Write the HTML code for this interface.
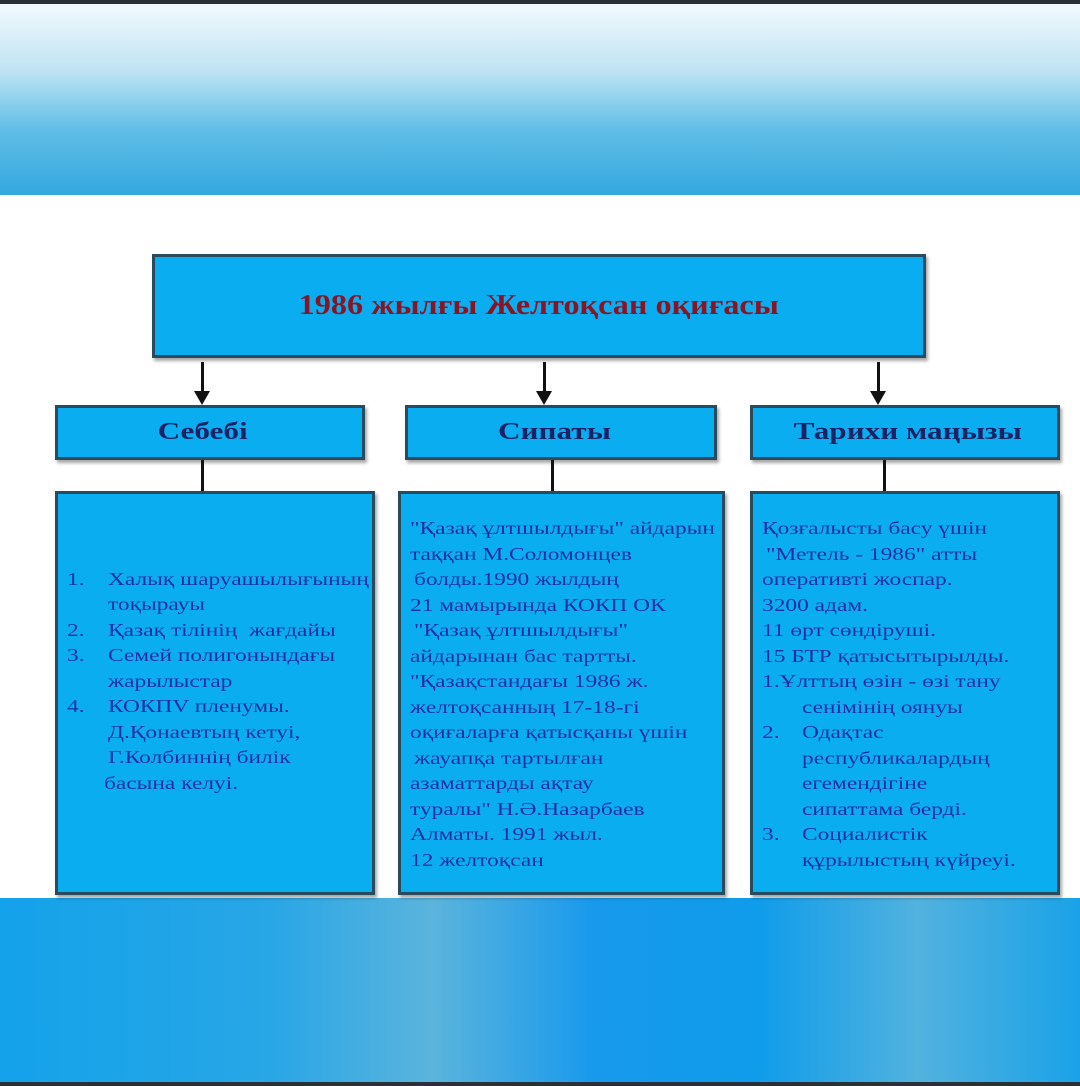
<!DOCTYPE html>
<html><head><meta charset="utf-8"><style>
body{margin:0;width:1080px;height:1086px;position:relative;overflow:hidden;background:#fff;font-family:"Liberation Serif",serif}
.a{position:absolute}
.box{position:absolute;background:#0aaef0;border:3px solid #2a4a5e;box-sizing:border-box;box-shadow:2px 3px 3px rgba(0,0,0,.35)}
.hd{font-weight:bold;font-size:24px;color:#1a2266;line-height:49px}
.hd span{display:inline-block;transform:scaleX(1.3)}
.t{position:absolute;font-size:18px;color:#1e2fa6;white-space:nowrap;line-height:25.5px;transform-origin:0 0;transform:scaleX(1.3)}
.v{position:absolute;width:3px;background:#111}
.ar{position:absolute;width:0;height:0;border-left:8px solid transparent;border-right:8px solid transparent;border-top:14px solid #111}
</style></head><body>
<div class="a" style="left:0;top:0;width:1080px;height:4px;background:#2b3036"></div>
<div class="a" style="left:0;top:4px;width:1080px;height:191px;background:linear-gradient(#f2f9fd 0%,#bfe3f3 35%,#62bfe7 65%,#33a8de 100%)"></div>
<div class="a" style="left:0;top:898px;width:1080px;height:184px;background:linear-gradient(90deg,#14a2ea 0%,#28a6e6 25%,#5bb4dc 40%,#1899ec 55%,#0f9cea 70%,#52b2de 85%,#1aa2e8 100%)"></div>
<div class="a" style="left:0;top:1082px;width:1080px;height:4px;background:#2b3036"></div>

<div class="box" style="left:152px;top:254px;width:774px;height:104px"></div>
<div class="a" style="left:152px;top:290px;width:774px;text-align:center;font-weight:bold;font-size:28px;color:#8a1424"><span style="display:inline-block;transform:scaleX(1.15)">1986 жылғы Желтоқсан оқиғасы</span></div>

<div class="v" style="left:201px;top:362px;height:30px"></div><div class="ar" style="left:194px;top:391px"></div>
<div class="v" style="left:543px;top:362px;height:30px"></div><div class="ar" style="left:536px;top:391px"></div>
<div class="v" style="left:877px;top:362px;height:30px"></div><div class="ar" style="left:870px;top:391px"></div>

<div class="box hd" style="left:55px;top:405px;width:310px;height:55px"><span style="margin-left:110px">Себебі</span></div>
<div class="box hd" style="left:405px;top:405px;width:312px;height:55px"><span style="margin-left:103px">Сипаты</span></div>
<div class="box hd" style="left:750px;top:405px;width:310px;height:55px"><span style="margin-left:67px">Тарихи маңызы</span></div>

<div class="v" style="left:201px;top:460px;height:32px"></div>
<div class="v" style="left:551px;top:460px;height:32px"></div>
<div class="v" style="left:883px;top:460px;height:32px"></div>

<div class="box" style="left:55px;top:491px;width:320px;height:404px"></div>
<div class="box" style="left:398px;top:491px;width:327px;height:404px"></div>
<div class="box" style="left:750px;top:491px;width:310px;height:404px"></div>

<div class="t" style="left:67px;top:567px">1.</div><div class="t" style="left:108px;top:567px">Халық шаруашылығының</div>
<div class="t" style="left:108px;top:592px">тоқырауы</div>
<div class="t" style="left:67px;top:618px">2.</div><div class="t" style="left:108px;top:618px">Қазақ тілінің&nbsp; жағдайы</div>
<div class="t" style="left:67px;top:643px">3.</div><div class="t" style="left:108px;top:643px">Семей полигонындағы</div>
<div class="t" style="left:108px;top:669px">жарылыстар</div>
<div class="t" style="left:67px;top:694px">4.</div><div class="t" style="left:108px;top:694px">КОКПV пленумы.</div>
<div class="t" style="left:108px;top:720px">Д.Қонаевтың кетуі,</div>
<div class="t" style="left:108px;top:745px">Г.Колбиннің билік</div>
<div class="t" style="left:104px;top:771px">басына келуі.</div>

<div class="t" style="left:410px;top:516px">"Қазақ ұлтшылдығы" айдарын</div>
<div class="t" style="left:410px;top:542px">таққан М.Соломонцев</div>
<div class="t" style="left:414px;top:567px">болды.1990 жылдың</div>
<div class="t" style="left:410px;top:593px">21 мамырында КОКП ОК</div>
<div class="t" style="left:414px;top:618px">"Қазақ ұлтшылдығы"</div>
<div class="t" style="left:410px;top:644px">айдарынан бас тартты.</div>
<div class="t" style="left:410px;top:669px">"Қазақстандағы 1986 ж.</div>
<div class="t" style="left:410px;top:695px">желтоқсанның 17-18-гі</div>
<div class="t" style="left:410px;top:720px">оқиғаларға қатысқаны үшін</div>
<div class="t" style="left:414px;top:746px">жауапқа тартылған</div>
<div class="t" style="left:410px;top:771px">азаматтарды ақтау</div>
<div class="t" style="left:410px;top:797px">туралы" Н.Ә.Назарбаев</div>
<div class="t" style="left:410px;top:822px">Алматы. 1991 жыл.</div>
<div class="t" style="left:410px;top:848px">12 желтоқсан</div>

<div class="t" style="left:762px;top:516px">Қозғалысты басу үшін</div>
<div class="t" style="left:766px;top:542px">"Метель - 1986" атты</div>
<div class="t" style="left:762px;top:567px">оперативті жоспар.</div>
<div class="t" style="left:762px;top:593px">3200 адам.</div>
<div class="t" style="left:762px;top:618px">11 өрт сөндіруші.</div>
<div class="t" style="left:762px;top:644px">15 БТР қатысытырылды.</div>
<div class="t" style="left:762px;top:669px">1.Ұлттың өзін - өзі тану</div>
<div class="t" style="left:802px;top:695px">сенімінің оянуы</div>
<div class="t" style="left:762px;top:720px">2.</div><div class="t" style="left:802px;top:720px">Одақтас</div>
<div class="t" style="left:802px;top:746px">республикалардың</div>
<div class="t" style="left:802px;top:771px">егемендігіне</div>
<div class="t" style="left:802px;top:797px">сипаттама берді.</div>
<div class="t" style="left:762px;top:822px">3.</div><div class="t" style="left:802px;top:822px">Социалистік</div>
<div class="t" style="left:802px;top:848px">құрылыстың күйреуі.</div>
</body></html>
